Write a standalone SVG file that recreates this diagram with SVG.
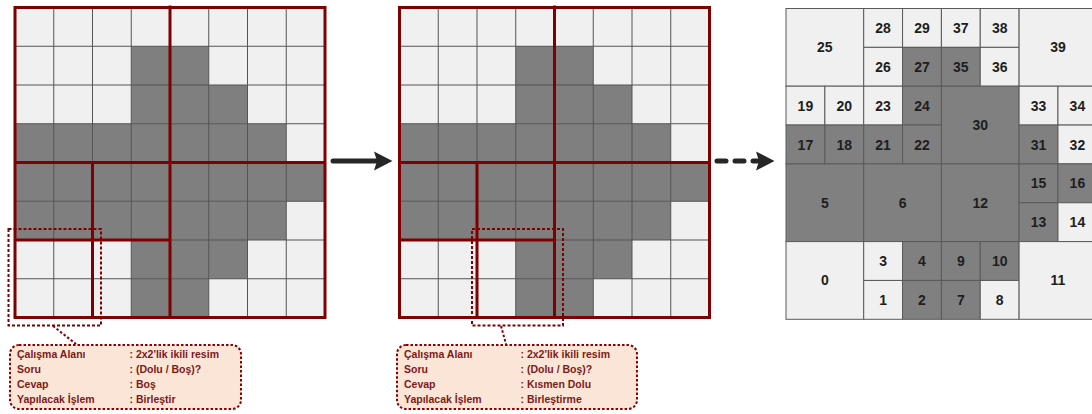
<svg xmlns="http://www.w3.org/2000/svg" xmlns:xlink="http://www.w3.org/1999/xlink" width="1092" height="414" viewBox="0 0 1092 414">
  <style>
    .bg { fill: #ffffff; }
    .px-lt { fill: #f0f0f0; }
    .px-dk { fill: #7f7f7f; }
    .thin { fill: none; stroke: #555555; stroke-width: 1; }
    .red { fill: none; stroke: #7f0000; stroke-width: 3; }
    .sel { fill: none; stroke: #7f0000; stroke-width: 2; stroke-dasharray: 3 2; }
    .lt { fill: #f0f0f0; stroke: #5a5a5a; stroke-width: 1; }
    .dk { fill: #808080; stroke: #5a5a5a; stroke-width: 1; }
    .lbl { font-family: "Liberation Sans", Arial, sans-serif; font-weight: bold; font-size: 14px; fill: #1e1e1e; text-anchor: middle; dominant-baseline: central; }
    .note { fill: #fbe5d6; stroke: #8b0000; stroke-width: 2; stroke-dasharray: 2.5 2; }
    .lead { fill: none; stroke: #8b0000; stroke-width: 2; stroke-dasharray: 2.5 2; }
    .ntxt { font-family: "Liberation Sans", Arial, sans-serif; font-weight: bold; font-size: 10.5px; fill: #7b1a1a; }
    .arrow { fill: none; stroke: #262626; stroke-width: 5; stroke-linecap: round; }
    .head { fill: #262626; }
  </style>
  <defs>
    <!-- 8x8 binary image, cell size 38.75 -->
    <g id="bitmap">
      <rect class="px-lt" x="0" y="0" width="310" height="310"/>
      <rect class="px-dk" x="116.25" y="38.75" width="77.5" height="38.75"/>
      <rect class="px-dk" x="116.25" y="77.5" width="116.25" height="38.75"/>
      <rect class="px-dk" x="0" y="116.25" width="271.25" height="38.75"/>
      <rect class="px-dk" x="0" y="155" width="310" height="38.75"/>
      <rect class="px-dk" x="0" y="193.75" width="271.25" height="38.75"/>
      <rect class="px-dk" x="116.25" y="232.5" width="116.25" height="38.75"/>
      <rect class="px-dk" x="116.25" y="271.25" width="77.5" height="38.75"/>
      <path class="thin" d="M38.75 0V310M77.5 0V310M116.25 0V310M155 0V310M193.75 0V310M232.5 0V310M271.25 0V310M0 38.75H310M0 77.5H310M0 116.25H310M0 155H310M0 193.75H310M0 232.5H310M0 271.25H310"/>
      <!-- quadtree split lines -->
      <rect class="red" x="0" y="0" width="310" height="310"/>
      <path class="red" d="M155 -2V310M0 155H310M77.5 155V310M0 232.5H155"/>
    </g>
  </defs>

  <rect class="bg" x="0" y="0" width="1092" height="414"/>

  <g id="image-step1">
    <use xlink:href="#bitmap" href="#bitmap" transform="translate(15,7.5)"/>
    <rect class="sel" x="8.5" y="229" width="92.5" height="96.5"/>
  </g>

  <g id="image-step2">
    <use xlink:href="#bitmap" href="#bitmap" transform="translate(399.5,7.5)"/>
    <rect class="sel" x="472" y="229" width="91" height="96.5"/>
  </g>

  <g id="note-step1">
    <rect class="note" x="10" y="345" width="231" height="64" rx="9" ry="9"/>
    <text class="ntxt" x="17" y="357.5">Çalışma Alanı</text>
    <text class="ntxt" x="17" y="372.5">Soru</text>
    <text class="ntxt" x="17" y="387.5">Cevap</text>
    <text class="ntxt" x="17" y="402.5">Yapılacak İşlem</text>
    <text class="ntxt" x="129.5" y="357.5">: 2x2'lik ikili resim</text>
    <text class="ntxt" x="129.5" y="372.5">: (Dolu / Boş)?</text>
    <text class="ntxt" x="129.5" y="387.5">: Boş</text>
    <text class="ntxt" x="129.5" y="402.5">: Birleştir</text>
  </g>

  <g id="note-step2">
    <rect class="note" x="397" y="345" width="240" height="64" rx="9" ry="9"/>
    <text class="ntxt" x="404" y="357.5">Çalışma Alanı</text>
    <text class="ntxt" x="404" y="372.5">Soru</text>
    <text class="ntxt" x="404" y="387.5">Cevap</text>
    <text class="ntxt" x="404" y="402.5">Yapılacak İşlem</text>
    <text class="ntxt" x="520.5" y="357.5">: 2x2'lik ikili resim</text>
    <text class="ntxt" x="520.5" y="372.5">: (Dolu / Boş)?</text>
    <text class="ntxt" x="520.5" y="387.5">: Kısmen Dolu</text>
    <text class="ntxt" x="520.5" y="402.5">: Birleştirme</text>
  </g>

  <g id="quadtree">
    <g id="q25"><rect class="lt" x="786" y="8.5" width="77.7" height="77.7"/><text class="lbl" x="824.85" y="47.35">25</text></g>
    <g id="q28"><rect class="lt" x="863.7" y="8.5" width="38.85" height="38.85"/><text class="lbl" x="883.1" y="27.9">28</text></g>
    <g id="q29"><rect class="lt" x="902.55" y="8.5" width="38.85" height="38.85"/><text class="lbl" x="922" y="27.9">29</text></g>
    <g id="q26"><rect class="lt" x="863.7" y="47.35" width="38.85" height="38.85"/><text class="lbl" x="883.1" y="66.8">26</text></g>
    <g id="q27"><rect class="dk" x="902.55" y="47.35" width="38.85" height="38.85"/><text class="lbl" x="922" y="66.8">27</text></g>
    <g id="q37"><rect class="lt" x="941.4" y="8.5" width="38.85" height="38.85"/><text class="lbl" x="960.8" y="27.9">37</text></g>
    <g id="q38"><rect class="lt" x="980.25" y="8.5" width="38.85" height="38.85"/><text class="lbl" x="999.7" y="27.9">38</text></g>
    <g id="q35"><rect class="dk" x="941.4" y="47.35" width="38.85" height="38.85"/><text class="lbl" x="960.8" y="66.8">35</text></g>
    <g id="q36"><rect class="lt" x="980.25" y="47.35" width="38.85" height="38.85"/><text class="lbl" x="999.7" y="66.8">36</text></g>
    <g id="q39"><rect class="lt" x="1019.1" y="8.5" width="77.7" height="77.7"/><text class="lbl" x="1057.95" y="47.35">39</text></g>

    <g id="q19"><rect class="lt" x="786" y="86.2" width="38.85" height="38.85"/><text class="lbl" x="805.4" y="105.6">19</text></g>
    <g id="q20"><rect class="lt" x="824.85" y="86.2" width="38.85" height="38.85"/><text class="lbl" x="844.3" y="105.6">20</text></g>
    <g id="q17"><rect class="dk" x="786" y="125.05" width="38.85" height="38.85"/><text class="lbl" x="805.4" y="144.5">17</text></g>
    <g id="q18"><rect class="dk" x="824.85" y="125.05" width="38.85" height="38.85"/><text class="lbl" x="844.3" y="144.5">18</text></g>
    <g id="q23"><rect class="lt" x="863.7" y="86.2" width="38.85" height="38.85"/><text class="lbl" x="883.1" y="105.6">23</text></g>
    <g id="q24"><rect class="dk" x="902.55" y="86.2" width="38.85" height="38.85"/><text class="lbl" x="922" y="105.6">24</text></g>
    <g id="q21"><rect class="dk" x="863.7" y="125.05" width="38.85" height="38.85"/><text class="lbl" x="883.1" y="144.5">21</text></g>
    <g id="q22"><rect class="dk" x="902.55" y="125.05" width="38.85" height="38.85"/><text class="lbl" x="922" y="144.5">22</text></g>
    <g id="q30"><rect class="dk" x="941.4" y="86.2" width="77.7" height="77.7"/><text class="lbl" x="980.25" y="125.05">30</text></g>
    <g id="q33"><rect class="lt" x="1019.1" y="86.2" width="38.85" height="38.85"/><text class="lbl" x="1038.5" y="105.6">33</text></g>
    <g id="q34"><rect class="lt" x="1057.95" y="86.2" width="38.85" height="38.85"/><text class="lbl" x="1077.4" y="105.6">34</text></g>
    <g id="q31"><rect class="dk" x="1019.1" y="125.05" width="38.85" height="38.85"/><text class="lbl" x="1038.5" y="144.5">31</text></g>
    <g id="q32"><rect class="lt" x="1057.95" y="125.05" width="38.85" height="38.85"/><text class="lbl" x="1077.4" y="144.5">32</text></g>

    <g id="q5"><rect class="dk" x="786" y="163.9" width="77.7" height="77.7"/><text class="lbl" x="824.85" y="202.75">5</text></g>
    <g id="q6"><rect class="dk" x="863.7" y="163.9" width="77.7" height="77.7"/><text class="lbl" x="902.55" y="202.75">6</text></g>
    <g id="q12"><rect class="dk" x="941.4" y="163.9" width="77.7" height="77.7"/><text class="lbl" x="980.25" y="202.75">12</text></g>
    <g id="q15"><rect class="dk" x="1019.1" y="163.9" width="38.85" height="38.85"/><text class="lbl" x="1038.5" y="183.3">15</text></g>
    <g id="q16"><rect class="dk" x="1057.95" y="163.9" width="38.85" height="38.85"/><text class="lbl" x="1077.4" y="183.3">16</text></g>
    <g id="q13"><rect class="dk" x="1019.1" y="202.75" width="38.85" height="38.85"/><text class="lbl" x="1038.5" y="222.2">13</text></g>
    <g id="q14"><rect class="lt" x="1057.95" y="202.75" width="38.85" height="38.85"/><text class="lbl" x="1077.4" y="222.2">14</text></g>

    <g id="q0"><rect class="lt" x="786" y="241.6" width="77.7" height="77.7"/><text class="lbl" x="824.85" y="280.45">0</text></g>
    <g id="q3"><rect class="lt" x="863.7" y="241.6" width="38.85" height="38.85"/><text class="lbl" x="883.1" y="261">3</text></g>
    <g id="q4"><rect class="dk" x="902.55" y="241.6" width="38.85" height="38.85"/><text class="lbl" x="922" y="261">4</text></g>
    <g id="q1"><rect class="lt" x="863.7" y="280.45" width="38.85" height="38.85"/><text class="lbl" x="883.1" y="299.9">1</text></g>
    <g id="q2"><rect class="dk" x="902.55" y="280.45" width="38.85" height="38.85"/><text class="lbl" x="922" y="299.9">2</text></g>
    <g id="q9"><rect class="dk" x="941.4" y="241.6" width="38.85" height="38.85"/><text class="lbl" x="960.8" y="261">9</text></g>
    <g id="q10"><rect class="dk" x="980.25" y="241.6" width="38.85" height="38.85"/><text class="lbl" x="999.7" y="261">10</text></g>
    <g id="q7"><rect class="dk" x="941.4" y="280.45" width="38.85" height="38.85"/><text class="lbl" x="960.8" y="299.9">7</text></g>
    <g id="q8"><rect class="lt" x="980.25" y="280.45" width="38.85" height="38.85"/><text class="lbl" x="999.7" y="299.9">8</text></g>
    <g id="q11"><rect class="lt" x="1019.1" y="241.6" width="77.7" height="77.7"/><text class="lbl" x="1057.95" y="280.45">11</text></g>
  </g>

  <g id="connectors">
    <!-- leaders from the dashed windows to their notes -->
    <path class="lead" d="M53 326L76 344"/>
    <path class="lead" d="M501 326L506 344"/>
    <!-- step arrow -->
    <path class="arrow" d="M333 161H377"/>
    <path class="head" d="M374 151.5L392.5 161L374 170.5L377 161Z"/>
    <!-- dashed arrow to the final tree -->
    <path class="arrow" d="M717 161H726M735 161H744M753 161H758"/>
    <path class="head" d="M756 151.5L774.5 161L756 170.5L759 161Z"/>
  </g>
</svg>
